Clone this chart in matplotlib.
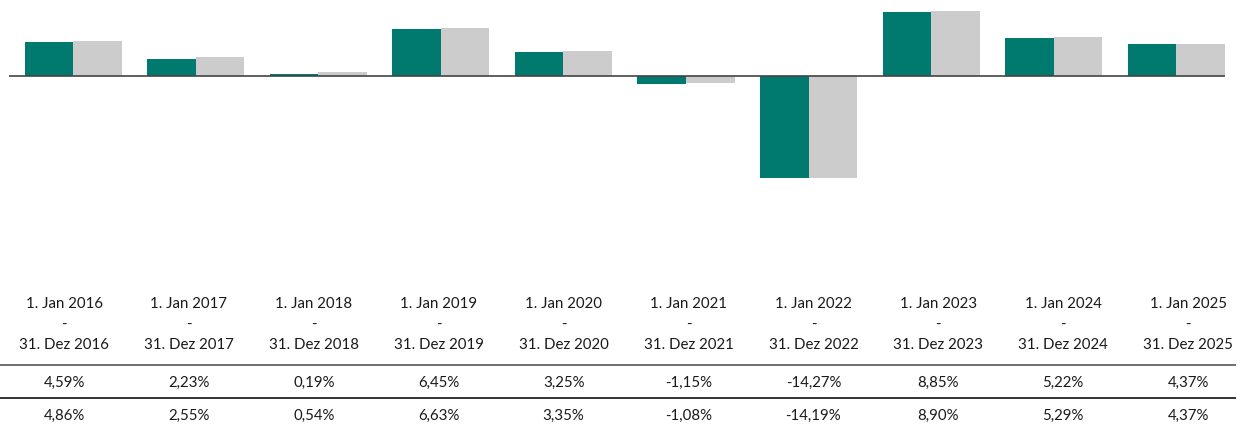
import matplotlib.pyplot as plt
import numpy as np

plt.rcParams['font.family'] = ['Lato', 'DejaVu Sans']

years = [2016, 2017, 2018, 2019, 2020, 2021, 2022, 2023, 2024, 2025]
fund = [4.59, 2.23, 0.19, 6.45, 3.25, -1.15, -14.27, 8.85, 5.22, 4.37]
bench = [4.86, 2.55, 0.54, 6.63, 3.35, -1.08, -14.19, 8.90, 5.29, 4.37]

teal = '#00796F'
grey = '#CCCCCC'

W, H = 1247, 427
fig = plt.figure(figsize=(W / 100, H / 100), dpi=100)

# bar area: top 290 px of the figure
ax = fig.add_axes([0, 1 - 290 / H, 1, 290 / H])
step = 122.6  # px per category
pxpct = 7.2   # px per percent
base = 76.5   # baseline pixel row
ax.set_xlim(-73 / step, (W - 73) / step)
ax.set_ylim(-(290 - base) / pxpct, base / pxpct)
ax.axis('off')

x = np.arange(len(years))
bw = 48.5 / step
ax.bar(x - bw / 2, fund, bw, color=teal, linewidth=0)
ax.bar(x + bw / 2, bench, bw, color=grey, linewidth=0)
ax.hlines(0, -64 / step, (1225 - 73) / step, color='#444444', lw=1.2, zorder=3)

# table below, in pixel coords
tb = fig.add_axes([0, 0, 1, 1], facecolor='none')
tb.set_xlim(0, W)
tb.set_ylim(H, 0)
tb.axis('off')

col = 124.9
fs = 10.8
tc = '#1a1a1a'
for i, yr in enumerate(years):
    cx = 64 + col * i
    tb.text(cx, 304, f'1. Jan {yr}', ha='center', va='center', fontsize=fs, color=tc)
    tb.text(cx, 325, '-', ha='center', va='center', fontsize=fs, color=tc)
    tb.text(cx, 345, f'31. Dez {yr}', ha='center', va='center', fontsize=fs, color=tc)
    tb.text(cx, 383, f'{fund[i]:.2f}%'.replace('.', ','), ha='center', va='center', fontsize=fs, color=tc)
    tb.text(cx, 416, f'{bench[i]:.2f}%'.replace('.', ','), ha='center', va='center', fontsize=fs, color=tc)

tb.hlines(366, 0, 1236, color='#555555', lw=1.2)
tb.hlines(399, 0, 1236, color='#111111', lw=1.2)

fig.savefig('out.png', dpi=100)
